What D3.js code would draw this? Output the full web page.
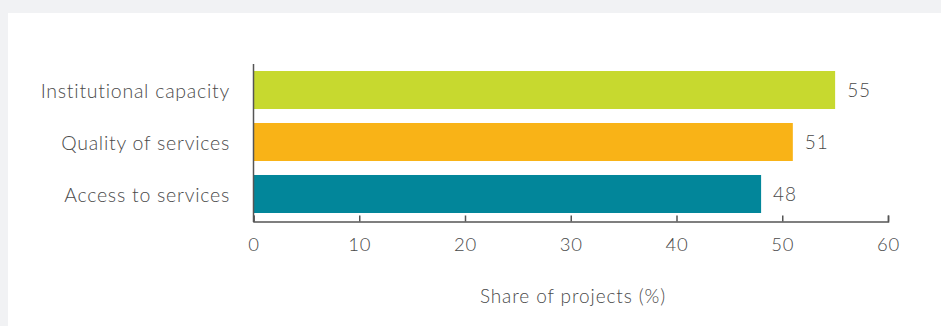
<!DOCTYPE html>
<html>
<head>
<meta charset="utf-8">
<script src="https://cdn.jsdelivr.net/npm/d3@7"></script>
<style>
  html, body { margin: 0; padding: 0; background: #f1f2f4; }
  svg { display: block; }
  text { font-family: Lato, "Open Sans", sans-serif; font-weight: 300; fill: #4a4a4a; }
</style>
</head>
<body>
<svg id="chart" width="941" height="326"></svg>
<script>
// Share of projects by area of focus
const categories = ["Institutional capacity", "Quality of services", "Access to services"];
const values = [55, 51, 48];
const colors = ["#c7d92f", "#f9b317", "#02869a"];
const xTicks = [0, 10, 20, 30, 40, 50, 60];
const xTitle = "Share of projects (%)";

const svg = d3.select("#chart");

// white card
svg.append("rect")
  .attr("x", 8).attr("y", 13)
  .attr("width", 941 - 8).attr("height", 326 - 13)
  .attr("fill", "#ffffff");

const x = d3.scaleLinear().domain([0, 60]).range([253.5, 888]);
const y = d3.scaleBand().domain(categories).range([62, 222])
  .paddingInner(0.269).paddingOuter(0.173);

const axisColor = "#555555";

// bars
svg.append("g").selectAll("rect")
  .data(categories)
  .join("rect")
  .attr("x", x(0))
  .attr("y", d => y(d))
  .attr("width", (d, i) => x(values[i]) - x(0))
  .attr("height", y.bandwidth())
  .attr("fill", (d, i) => colors[i]);

// value labels
svg.append("g").selectAll("text")
  .data(categories)
  .join("text")
  .attr("x", (d, i) => x(values[i]) + 12)
  .attr("y", d => y(d) + y.bandwidth() / 2)
  .attr("dy", "0.35em")
  .attr("font-size", 19)
  .attr("letter-spacing", 0.8)
  .text((d, i) => values[i]);

// x axis
const xAxis = d3.axisBottom(x)
  .tickValues(xTicks)
  .tickSize(-6)
  .tickPadding(16)
  .tickSizeOuter(-6);

const gx = svg.append("g")
  .attr("transform", "translate(0,221.5)")
  .call(xAxis);
gx.select(".domain").attr("stroke", axisColor).attr("stroke-width", 1.5);
gx.selectAll(".tick line").attr("stroke", axisColor).attr("stroke-width", 1.5);
gx.selectAll(".tick text")
  .attr("font-size", 18.5)
  .attr("font-family", "Lato, sans-serif")
  .attr("font-weight", 300)
  .attr("letter-spacing", 0.8)
  .attr("fill", "#4a4a4a");

// y axis line
svg.append("line")
  .attr("x1", x(0)).attr("x2", x(0))
  .attr("y1", 64).attr("y2", 222)
  .attr("stroke", axisColor).attr("stroke-width", 1.5);

// category labels
svg.append("g").selectAll("text")
  .data(categories)
  .join("text")
  .attr("x", 230)
  .attr("y", d => y(d) + y.bandwidth() / 2 + 1)
  .attr("dy", "0.35em")
  .attr("text-anchor", "end")
  .attr("font-size", 19.5)
  .attr("letter-spacing", 0.75)
  .text(d => d);

// axis title
svg.append("text")
  .attr("x", 573)
  .attr("y", 296)
  .attr("dy", "0.35em")
  .attr("text-anchor", "middle")
  .attr("font-size", 19)
  .attr("letter-spacing", 0.9)
  .text(xTitle);
</script>
</body>
</html>
